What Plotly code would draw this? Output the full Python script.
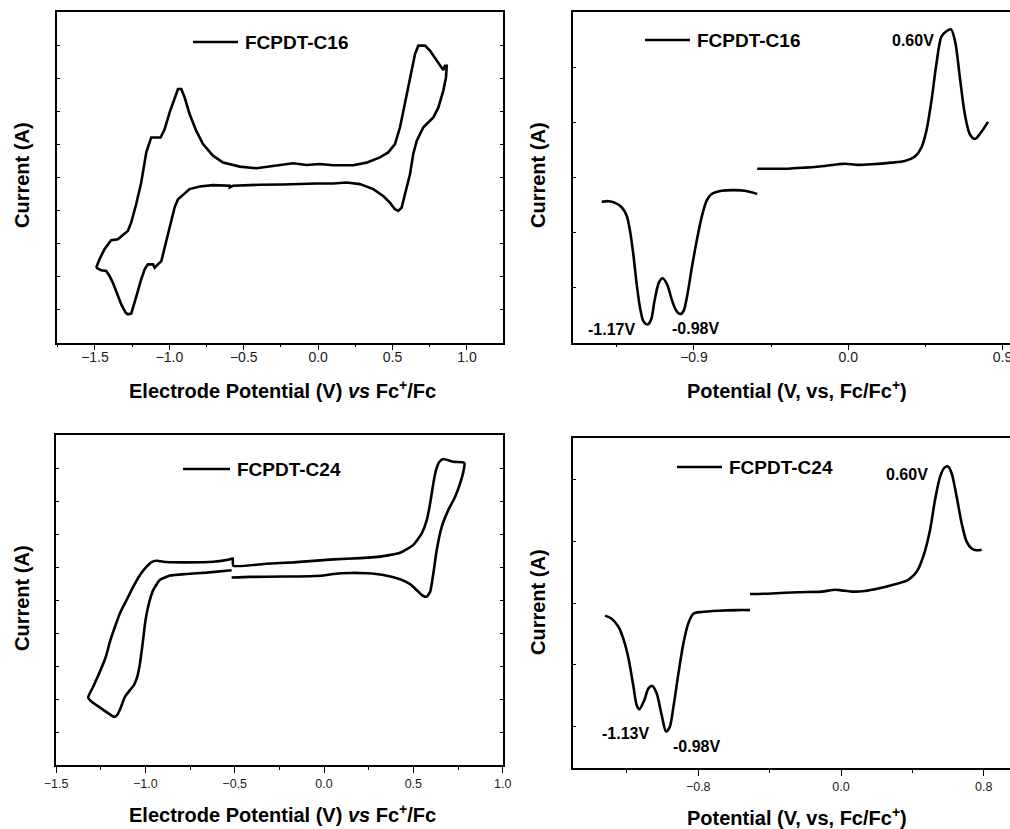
import plotly.graph_objects as go

# ---------------- data ----------------
# Cyclic voltammogram, FCPDT-C16 (potential in V vs Fc+/Fc, current in arbitrary units)
cv16_potential = [-1.492, -1.469, -1.436, -1.413, -1.391, -1.346, -1.323, -1.294, -1.279, -1.256,
                  -1.223, -1.189, -1.155, -1.122, -1.059, -1.032, -0.998, -0.965, -0.942, -0.920,
                  -0.897, -0.864, -0.819, -0.774, -0.707, -0.639, -0.527, -0.415, -0.325, -0.236,
                  -0.168, -0.079, 0.011, 0.101, 0.236, 0.325, 0.415, 0.471, 0.516, 0.550,
                  0.583, 0.617, 0.651, 0.673, 0.718, 0.751, 0.774, 0.796, 0.819, 0.841,
                  0.852, 0.864, 0.859, 0.841, 0.808, 0.774, 0.729, 0.707, 0.689, 0.662,
                  0.639, 0.617, 0.583, 0.561, 0.538, 0.516, 0.482, 0.437, 0.370, 0.280,
                  0.191, 0.101, -0.011, -0.123, -0.236, -0.393, -0.527, -0.572, -0.594, -0.594,
                  -0.707, -0.796, -0.864, -0.897, -0.942, -0.965, -0.987, -1.009, -1.032, -1.054,
                  -1.077, -1.099, -1.110, -1.144, -1.166, -1.189, -1.218, -1.245, -1.256, -1.279,
                  -1.294, -1.323, -1.357, -1.380, -1.402, -1.424, -1.458, -1.492]
cv16_current = [2.27, 2.53, 2.83, 2.98, 3.10, 3.13, 3.23, 3.33, 3.38, 3.64,
                4.19, 4.85, 5.76, 6.21, 6.21, 6.46, 6.97, 7.42, 7.68, 7.68,
                7.42, 6.92, 6.41, 6.01, 5.66, 5.45, 5.33, 5.28, 5.33, 5.40,
                5.43, 5.38, 5.41, 5.37, 5.37, 5.45, 5.61, 5.76, 6.01, 6.52,
                7.22, 8.03, 8.74, 8.99, 8.99, 8.84, 8.69, 8.54, 8.38, 8.25,
                8.38, 8.38, 8.03, 7.63, 7.12, 6.82, 6.62, 6.52, 6.36, 6.11,
                5.71, 5.10, 4.49, 4.09, 3.99, 4.04, 4.24, 4.44, 4.65, 4.80,
                4.85, 4.82, 4.82, 4.80, 4.79, 4.78, 4.75, 4.75, 4.70, 4.75,
                4.77, 4.73, 4.65, 4.53, 4.34, 4.09, 3.69, 3.28, 2.78, 2.47,
                2.37, 2.27, 2.37, 2.37, 2.22, 1.92, 1.46, 1.06, 0.88, 0.86,
                0.91, 1.16, 1.57, 1.82, 2.02, 2.17, 2.19, 2.27]

# Differential pulse voltammetry, FCPDT-C16: reduction and oxidation sweeps
dpv16_red_potential = [-1.438, -1.399, -1.360, -1.322, -1.293, -1.273, -1.254, -1.234, -1.215, -1.195,
                       -1.17, -1.15, -1.13, -1.105, -1.083, -1.057, -1.025, -1.003, -0.98, -0.960,
                       -0.938, -0.912, -0.884, -0.855, -0.826, -0.797, -0.739, -0.661, -0.603, -0.564,
                       -0.531]
dpv16_red_current = [2.56, 2.57, 2.54, 2.46, 2.31, 2.03, 1.61, 1.06, 0.64, 0.39,
                     0.33, 0.42, 0.76, 1.09, 1.17, 1.06, 0.74, 0.58, 0.52, 0.58,
                     0.88, 1.37, 1.85, 2.28, 2.58, 2.70, 2.76, 2.77, 2.76, 2.73,
                     2.70]
dpv16_ox_potential = [-0.531, -0.447, -0.350, -0.253, -0.136, -0.058, -0.019, 0.058, 0.136, 0.253,
                      0.330, 0.389, 0.428, 0.457, 0.486, 0.515, 0.544, 0.575, 0.60, 0.625,
                      0.651, 0.680, 0.709, 0.739, 0.768, 0.816]
dpv16_ox_current = [3.16, 3.16, 3.16, 3.18, 3.21, 3.24, 3.25, 3.23, 3.24, 3.27,
                    3.30, 3.38, 3.55, 3.86, 4.40, 5.07, 5.56, 5.66, 5.69, 5.45,
                    4.83, 4.16, 3.79, 3.70, 3.79, 4.01]
dpv16_peaks = {"-1.17V": (-1.17, 0.33), "-0.98V": (-0.98, 0.52), "0.60V": (0.60, 5.69)}

# Cyclic voltammogram, FCPDT-C24
cv24_potential = [-0.517, -0.414, -0.228, -0.078, -0.004, 0.052, 0.146, 0.239, 0.332, 0.426,
                  0.482, 0.528, 0.556, 0.575, 0.594, 0.612, 0.631, 0.659, 0.696, 0.734,
                  0.762, 0.780, 0.786, 0.780, 0.724, 0.668, 0.646, 0.627, 0.612, 0.594,
                  0.575, 0.547, 0.500, 0.426, 0.332, 0.202, 0.052, -0.022, -0.172, -0.321,
                  -0.508, -0.511, -0.530, -0.620, -0.769, -0.881, -0.937, -0.965, -0.993, -1.030,
                  -1.068, -1.105, -1.142, -1.170, -1.198, -1.221, -1.254, -1.292, -1.320, -1.301,
                  -1.254, -1.208, -1.174, -1.157, -1.139, -1.114, -1.086, -1.064, -1.045, -1.030,
                  -1.015, -0.999, -0.980, -0.956, -0.918, -0.862, -0.769, -0.657, -0.517]
cv24_current = [5.68, 5.70, 5.71, 5.72, 5.74, 5.79, 5.82, 5.81, 5.76, 5.63,
                5.48, 5.25, 5.12, 5.10, 5.25, 5.81, 6.52, 7.22, 7.73, 8.13,
                8.54, 8.89, 9.14, 9.17, 9.19, 9.27, 9.19, 8.94, 8.54, 7.93,
                7.42, 7.02, 6.67, 6.43, 6.33, 6.27, 6.23, 6.20, 6.14, 6.10,
                6.04, 6.26, 6.23, 6.16, 6.14, 6.15, 6.19, 6.15, 6.01, 5.76,
                5.40, 5.00, 4.60, 4.19, 3.74, 3.28, 2.83, 2.37, 2.05, 1.92,
                1.74, 1.57, 1.46, 1.52, 1.72, 2.07, 2.27, 2.42, 2.68, 3.08,
                3.69, 4.39, 4.90, 5.30, 5.61, 5.74, 5.79, 5.83, 5.90]

# Differential pulse voltammetry, FCPDT-C24
dpv24_red_potential = [-1.322, -1.285, -1.247, -1.219, -1.191, -1.163, -1.145, -1.13, -1.102, -1.079,
                       -1.057, -1.033, -1.005, -0.98, -0.96, -0.939, -0.911, -0.883, -0.855, -0.827,
                       -0.781, -0.687, -0.575, -0.510]
dpv24_red_current = [2.80, 2.75, 2.62, 2.42, 2.11, 1.65, 1.35, 1.28, 1.43, 1.62,
                     1.66, 1.54, 1.19, 0.92, 0.99, 1.32, 1.86, 2.35, 2.68, 2.83,
                     2.86, 2.88, 2.89, 2.89]
dpv24_ox_potential = [-0.510, -0.388, -0.239, -0.108, -0.034, 0.004, 0.060, 0.134, 0.209, 0.303,
                      0.377, 0.424, 0.461, 0.499, 0.527, 0.555, 0.580, 0.60, 0.620, 0.648,
                      0.676, 0.704, 0.732, 0.760, 0.788]
dpv24_ox_current = [3.15, 3.16, 3.18, 3.19, 3.22, 3.21, 3.19, 3.20, 3.24, 3.31,
                    3.38, 3.51, 3.76, 4.19, 4.68, 5.05, 5.20, 5.22, 5.11, 4.73,
                    4.30, 4.00, 3.89, 3.86, 3.87]
dpv24_peaks = {"0.60V": (0.60, 5.22), "-1.13V": (-1.13, 1.28), "-0.98V": (-0.98, 0.92)}

# ---------------- figure ----------------
W, H = 1010, 829
FONT = "Liberation Sans, Arial, sans-serif"
LINE = dict(color="black", width=2.6)

fig = go.Figure()


def add_curve(x, y, xa, ya, shape="linear", smoothing=1.0):
    fig.add_trace(go.Scatter(x=x, y=y, mode="lines", xaxis=xa, yaxis=ya,
                             line=dict(LINE, shape=shape, smoothing=smoothing),
                             showlegend=False, hoverinfo="skip"))


add_curve(cv16_potential, cv16_current, "x", "y")
add_curve(dpv16_red_potential, dpv16_red_current, "x2", "y2", "spline", 0.8)
add_curve(dpv16_ox_potential, dpv16_ox_current, "x2", "y2", "spline", 0.8)
add_curve(cv24_potential, cv24_current, "x3", "y3", "spline", 0.5)
add_curve(dpv24_red_potential, dpv24_red_current, "x4", "y4", "spline", 0.8)
add_curve(dpv24_ox_potential, dpv24_ox_current, "x4", "y4", "spline", 0.8)


def px(x):
    return x / W


def py(y):
    return 1 - y / H


def xaxis(domain, rng, dtick, anchor, size, standoff):
    return dict(domain=domain, range=rng, anchor=anchor, automargin=False,
                showline=True, linecolor="black",
                linewidth=1.5, mirror=True, ticks="outside", ticklen=6, tickwidth=1.2,
                tickcolor="black", tick0=0, dtick=dtick, tickformat=".1f",
                minor=dict(tick0=0, dtick=dtick / 2, ticks="outside", ticklen=3,
                           tickwidth=1, tickcolor="black"),
                showgrid=False, zeroline=False, ticklabelstandoff=standoff,
                ticklabeloverflow="allow",
                tickfont=dict(family=FONT, size=size, color="#1a1a1a"))


def yaxis(domain, rng, tickvals, anchor, mirror):
    return dict(domain=domain, range=rng, anchor=anchor, automargin=False,
                showline=True, linecolor="black",
                linewidth=1.5, mirror=mirror, ticks="inside", ticklen=3, tickwidth=1,
                tickcolor="black", tickvals=tickvals, showticklabels=False,
                showgrid=False, zeroline=False)


top_y = [py(342.7), py(12.3)]
fig.update_layout(
    xaxis=xaxis([px(57), px(503)], [-1.755, 1.242], 0.5, "y", 14, -5),
    yaxis=yaxis(top_y, [0, 10], list(range(1, 10)), "x", "allticks"),
    xaxis2=xaxis([px(573.3), 1.0], [-1.604, 0.944], 0.9, "y2", 14, -5),
    yaxis2=yaxis(top_y, [0, 6], list(range(1, 6)), "x2", False),
    xaxis3=xaxis([px(56), px(502.7)], [-1.5, 1.0], 0.5, "y3", 12.5, 0),
    yaxis3=yaxis([py(765), py(435)], [0, 10], list(range(1, 10)), "x3", "allticks"),
    xaxis4=xaxis([px(573.3), 1.0], [-1.50, 0.947], 0.8, "y4", 12.5, 0),
    yaxis4=yaxis([py(768.3), py(438.3)], [0.324, 5.676], list(range(1, 6)), "x4", False),
)

annotations = []
shapes = []


def text(x, y, s, size, angle=0, anchor="center"):
    annotations.append(dict(x=px(x), y=py(y), xref="paper", yref="paper", text=s,
                            showarrow=False, textangle=angle, xanchor=anchor, yanchor="middle",
                            font=dict(family=FONT, size=size, color="black")))


# axis titles
cv_title = "<b>Electrode Potential (V) <i>vs</i> Fc<sup>+</sup>/Fc</b>"
dpv_title = "<b>Potential (V, vs, Fc/Fc<sup>+</sup>)</b>"
text(282, 389, cv_title, 20)
text(797, 389, dpv_title, 20)
text(282, 813, cv_title, 20)
text(797, 816, dpv_title, 20)
for xx, yy in [(22, 175), (538, 175), (22, 598), (538, 602)]:
    text(xx, yy, "<b>Current (A)</b>", 20, angle=-90)

# in-plot legend keys
for (x0, x1, yk, lbl) in [(193, 238, 42, "FCPDT-C16"), (645, 690, 40, "FCPDT-C16"),
                          (183, 230, 469, "FCPDT-C24"), (677, 722, 467, "FCPDT-C24")]:
    shapes.append(dict(type="line", xref="paper", yref="paper", x0=px(x0), x1=px(x1),
                       y0=py(yk), y1=py(yk), line=dict(color="black", width=2.6)))
    text(x1 + 5, yk, "<b>%s</b>" % lbl, 19, anchor="left")


# peak potential labels, placed next to their peaks
def peak_labels(peaks, xa, ya, shifts):
    for lbl, (xv, yv) in peaks.items():
        dx, dy = shifts[lbl]
        annotations.append(dict(x=xv, y=yv, xref=xa, yref=ya, text="<b>%s</b>" % lbl,
                                showarrow=False, xshift=dx, yshift=dy,
                                font=dict(family=FONT, size=16, color="black")))


peak_labels(dpv16_peaks, "x2", "y2", {"-1.17V": (-36, -5), "-0.98V": (15, -14), "0.60V": (-38, -11)})
peak_labels(dpv24_peaks, "x4", "y4", {"0.60V": (-41, -8), "-1.13V": (-14, -24), "-0.98V": (30, -15)})

fig.update_layout(width=W, height=H, margin=dict(l=0, r=0, t=0, b=0, autoexpand=False),
                  paper_bgcolor="white", plot_bgcolor="white",
                  annotations=annotations, shapes=shapes, showlegend=False)

fig.write_html("out.html", config={"displayModeBar": False})
